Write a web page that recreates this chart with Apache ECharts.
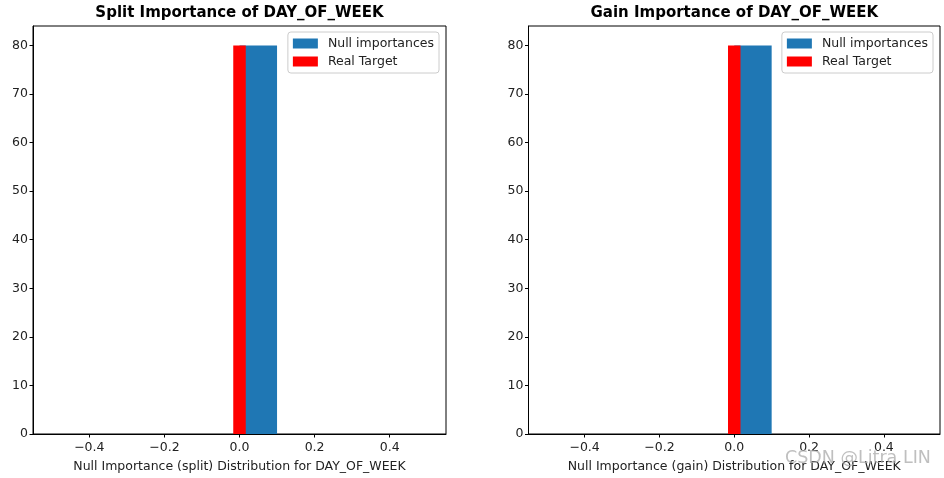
<!DOCTYPE html>
<html><head><meta charset="utf-8">
<script src="https://cdn.jsdelivr.net/npm/echarts@6/dist/echarts.min.js"></script>
<style>html,body{margin:0;padding:0;background:#fff}#c{width:944px;height:478px}</style>
</head><body><div id="c"></div>
<script>
const binEdges = [-0.5, -0.4, -0.3, -0.2, -0.1, 0, 0.1, 0.2, 0.3, 0.4, 0.5];
const splitNullCounts = [0, 0, 0, 0, 0, 80, 0, 0, 0, 0];
const gainNullCounts = [0, 0, 0, 0, 0, 80, 0, 0, 0, 0];
const splitRealTarget = [0, 80];   // [importance value, line height]
const gainRealTarget = [0, 80];
const xTicks = [-0.4, -0.2, 0, 0.2, 0.4];
const yTicks = [0, 10, 20, 30, 40, 50, 60, 70, 80];
const titles = ['Split Importance of DAY_OF_WEEK', 'Gain Importance of DAY_OF_WEEK'];
const xNames = ['Null Importance (split) Distribution for DAY_OF_WEEK', 'Null Importance (gain) Distribution for DAY_OF_WEEK'];
const seriesNames = ['Null importances', 'Real Target'];

const FONT = 'DejaVu Sans';
const chart = echarts.init(document.getElementById('c'), null, {renderer: 'canvas'});

function histData(counts) {
  return counts.map((c, i) => [binEdges[i], binEdges[i + 1], c]);
}
function renderHist(params, api) {
  const h = api.value(2);
  if (!(h > 0)) return null;
  const p0 = api.coord([api.value(0), h]);
  const p1 = api.coord([api.value(1), 0]);
  return {type: 'rect', shape: {x: p0[0], y: p0[1], width: p1[0] - p0[0], height: p1[1] - p0[1]},
          style: {fill: '#1f77b4'}};
}
const fmtX = v => (v < 0 ? '\u2212' : '') + Math.abs(v).toFixed(1);

const grids = [
  {left: 33, top: 26, width: 413, height: 408},
  {left: 528.5, top: 26, width: 411.5, height: 408}
];
function xAxis(i) {
  return {
    type: 'value', gridIndex: i, min: -0.55, max: 0.55,
    name: xNames[i], nameLocation: 'middle', nameGap: 26,
    nameTextStyle: {fontFamily: FONT, fontSize: 12.5, color: '#222'},
    axisLine: {show: true, onZero: false, lineStyle: {color: '#000', width: 1}},
    axisTick: {show: true, length: 3.5, lineStyle: {color: '#000'}, customValues: xTicks},
    axisLabel: {fontFamily: FONT, fontSize: 12.5, color: '#222', margin: 7.5, customValues: xTicks, formatter: fmtX},
    splitLine: {show: false}
  };
}
function yAxis(i) {
  return {
    type: 'value', gridIndex: i, min: 0, max: 84,
    axisLine: {show: true, onZero: false, lineStyle: {color: '#000', width: 1}},
    axisTick: {show: true, length: 3.5, lineStyle: {color: '#000'}, customValues: yTicks},
    axisLabel: {fontFamily: FONT, fontSize: 12.5, color: '#222', margin: 5, customValues: yTicks},
    splitLine: {show: false}
  };
}
function legend(i, right) {
  return {
    right: right, top: 32, orient: 'vertical',
    data: [{name: seriesNames[0], icon: 'rect'}, {name: seriesNames[1], icon: 'rect'}],
    itemWidth: 25, itemHeight: 10, itemGap: 3,
    padding: [4, 5, 4, 5],
    borderColor: '#cccccc', borderWidth: 1, borderRadius: 3, backgroundColor: 'rgba(255,255,255,0.8)',
    textStyle: {fontFamily: FONT, fontSize: 12.5, color: '#222', lineHeight: 15, padding: [0, 0, 0, 5]},
    selectedMode: false
  };
}
const nullSets = [splitNullCounts, gainNullCounts];
const realSets = [splitRealTarget, gainRealTarget];
const series = [];
[0, 1].forEach(i => {
  series.push({
    type: 'custom', name: seriesNames[0], xAxisIndex: i, yAxisIndex: i,
    renderItem: renderHist, encode: {x: [0, 1], y: 2},
    itemStyle: {color: '#1f77b4'}, data: histData(nullSets[i]), z: 2, silent: true
  });
  series.push({
    type: 'line', name: seriesNames[1], xAxisIndex: i, yAxisIndex: i,
    data: [[realSets[i][0], 0], [realSets[i][0], realSets[i][1]]],
    symbol: 'none', color: '#ff0000', itemStyle: {color: '#ff0000'},
    lineStyle: {color: '#ff0000', width: 12.5, cap: 'butt'}, z: 3, silent: true, animation: false
  });
});

chart.setOption({
  animation: false,
  backgroundColor: '#ffffff',
  title: [0, 1].map(i => ({
    text: titles[i], left: grids[i].left + grids[i].width / 2, top: 6, textAlign: 'center', padding: 0,
    textStyle: {fontFamily: FONT, fontSize: 15, fontWeight: 'bold', color: '#000'}
  })),
  grid: grids.map(g => Object.assign({show: true, borderColor: '#000', borderWidth: 1, backgroundColor: 'transparent'}, g)),
  xAxis: [xAxis(0), xAxis(1)],
  yAxis: [yAxis(0), yAxis(1)],
  legend: [legend(0, 505), legend(1, 11)],
  series: series,
  graphic: [{
    type: 'text', left: 785, top: 449, z: 100, silent: true,
    style: {text: 'CSDN @Litra LIN', fontFamily: FONT, fontSize: 17.5, fill: 'rgba(170,170,170,0.75)'}
  }]
});
</script></body></html>
